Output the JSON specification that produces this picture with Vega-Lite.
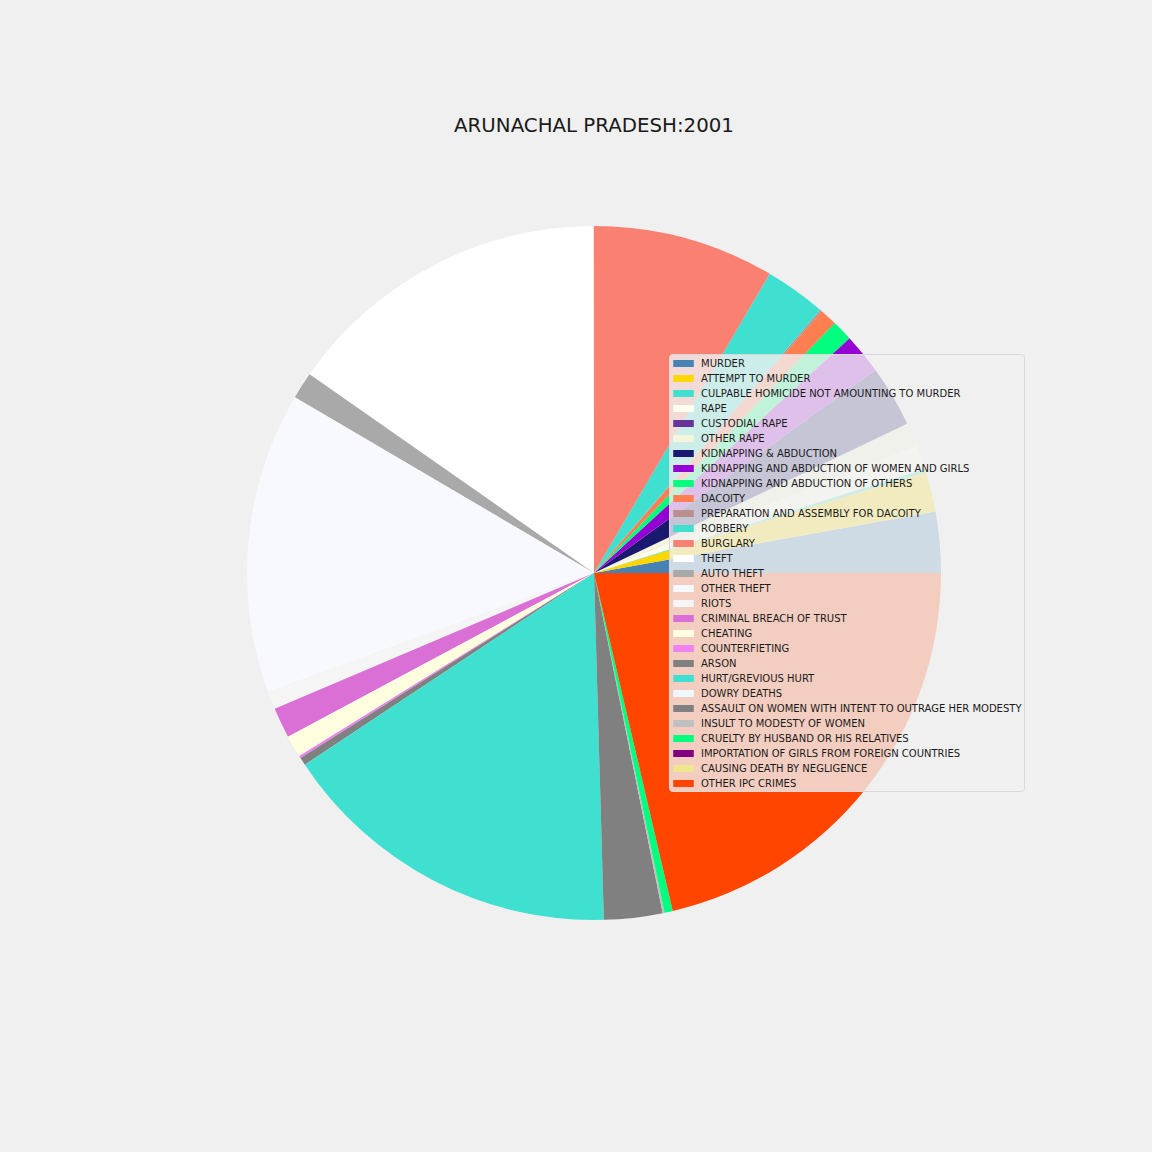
{
  "$schema": "https://vega.github.io/schema/vega-lite/v6.json",
  "width": 1116,
  "height": 1146,
  "autosize": {"type": "none"},
  "padding": {"left": 36, "top": 0, "right": 0, "bottom": 6},
  "background": "#f0f0f0",
  "title": {
    "text": "ARUNACHAL PRADESH:2001",
    "font": "DejaVu Sans",
    "fontSize": 19.8,
    "fontWeight": "normal",
    "color": "#1a1a1a",
    "anchor": "middle",
    "baseline": "middle",
    "offset": 0,
    "dy": 146
  },
  "data": {
    "values": [
      {"idx": 1, "crime": "MURDER", "count": 102},
      {"idx": 2, "crime": "ATTEMPT TO MURDER", "count": 67},
      {"idx": 3, "crime": "CULPABLE HOMICIDE NOT AMOUNTING TO MURDER", "count": 6},
      {"idx": 4, "crime": "RAPE", "count": 40},
      {"idx": 5, "crime": "CUSTODIAL RAPE", "count": 0},
      {"idx": 6, "crime": "OTHER RAPE", "count": 40},
      {"idx": 7, "crime": "KIDNAPPING & ABDUCTION", "count": 103},
      {"idx": 8, "crime": "KIDNAPPING AND ABDUCTION OF WOMEN AND GIRLS", "count": 68},
      {"idx": 9, "crime": "KIDNAPPING AND ABDUCTION OF OTHERS", "count": 35},
      {"idx": 10, "crime": "DACOITY", "count": 29},
      {"idx": 11, "crime": "PREPARATION AND ASSEMBLY FOR DACOITY", "count": 3},
      {"idx": 12, "crime": "ROBBERY", "count": 103},
      {"idx": 13, "crime": "BURGLARY", "count": 305},
      {"idx": 14, "crime": "THEFT", "count": 550},
      {"idx": 15, "crime": "AUTO THEFT", "count": 45},
      {"idx": 16, "crime": "OTHER THEFT", "count": 505},
      {"idx": 17, "crime": "RIOTS", "count": 30},
      {"idx": 18, "crime": "CRIMINAL BREACH OF TRUST", "count": 51},
      {"idx": 19, "crime": "CHEATING", "count": 37},
      {"idx": 20, "crime": "COUNTERFIETING", "count": 4},
      {"idx": 21, "crime": "ARSON", "count": 13},
      {"idx": 22, "crime": "HURT/GREVIOUS HURT", "count": 581},
      {"idx": 23, "crime": "DOWRY DEATHS", "count": 0},
      {"idx": 24, "crime": "ASSAULT ON WOMEN WITH INTENT TO OUTRAGE HER MODESTY", "count": 98},
      {"idx": 25, "crime": "INSULT TO MODESTY OF WOMEN", "count": 3},
      {"idx": 26, "crime": "CRUELTY BY HUSBAND OR HIS RELATIVES", "count": 14},
      {"idx": 27, "crime": "IMPORTATION OF GIRLS FROM FOREIGN COUNTRIES", "count": 0},
      {"idx": 28, "crime": "CAUSING DEATH BY NEGLIGENCE", "count": 0},
      {"idx": 29, "crime": "OTHER IPC CRIMES", "count": 769}
    ]
  },
  "mark": {"type": "arc", "outerRadius": 347, "strokeWidth": 0},
  "encoding": {
    "theta": {
      "field": "count",
      "type": "quantitative",
      "stack": true,
      "scale": {"range": [1.5707963268, -4.7123889804], "nice": false}
    },
    "order": {"field": "idx", "type": "quantitative"},
    "color": {
      "field": "crime",
      "type": "nominal",
      "scale": {
        "domain": ["MURDER", "ATTEMPT TO MURDER", "CULPABLE HOMICIDE NOT AMOUNTING TO MURDER", "RAPE", "CUSTODIAL RAPE", "OTHER RAPE", "KIDNAPPING & ABDUCTION", "KIDNAPPING AND ABDUCTION OF WOMEN AND GIRLS", "KIDNAPPING AND ABDUCTION OF OTHERS", "DACOITY", "PREPARATION AND ASSEMBLY FOR DACOITY", "ROBBERY", "BURGLARY", "THEFT", "AUTO THEFT", "OTHER THEFT", "RIOTS", "CRIMINAL BREACH OF TRUST", "CHEATING", "COUNTERFIETING", "ARSON", "HURT/GREVIOUS HURT", "DOWRY DEATHS", "ASSAULT ON WOMEN WITH INTENT TO OUTRAGE HER MODESTY", "INSULT TO MODESTY OF WOMEN", "CRUELTY BY HUSBAND OR HIS RELATIVES", "IMPORTATION OF GIRLS FROM FOREIGN COUNTRIES", "CAUSING DEATH BY NEGLIGENCE", "OTHER IPC CRIMES"],
        "range": ["#4682b4", "#ffd700", "#40e0d0", "#fffff0", "#663399", "#f5f5dc", "#191970", "#9400d3", "#00ff7f", "#ff7f50", "#bc8f8f", "#40e0d0", "#fa8072", "#ffffff", "#a9a9a9", "#f8f8ff", "#f5f5f5", "#da70d6", "#ffffe0", "#ee82ee", "#808080", "#40e0d0", "#f0f8ff", "#808080", "#c0c0c0", "#00ff7f", "#800080", "#f0e68c", "#ff4500"]
      },
      "legend": {
        "orient": "none",
        "legendX": 633,
        "legendY": 354,
        "title": null,
        "labelFont": "DejaVu Sans",
        "labelFontSize": 10,
        "labelColor": "#1a1a1a",
        "labelLimit": 500,
        "symbolType": "M-1.37,-0.467H1.37V0.467H-1.37Z",
        "symbolSize": 225,
        "symbolStrokeWidth": 0,
        "symbolOpacity": 1,
        "rowPadding": 2,
        "padding": 2,
        "symbolOffset": 5,
        "labelOffset": 10,
        "fillColor": "rgba(240,240,240,0.8)",
        "strokeColor": "#d8d8d8",
        "cornerRadius": 3
      }
    }
  },
  "config": {"view": {"stroke": null}}
}
